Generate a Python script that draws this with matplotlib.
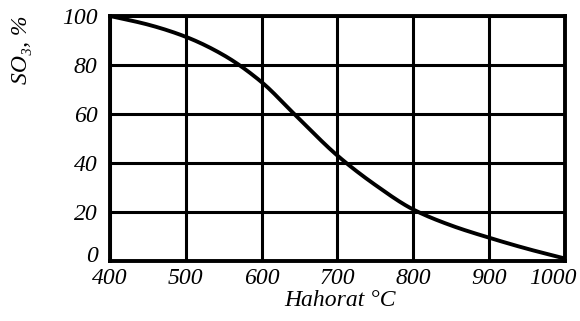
import matplotlib
matplotlib.use("Agg")
import matplotlib.pyplot as plt
import matplotlib.transforms as mtransforms
import numpy as np

# data
temperature = [400, 450, 500, 550, 600, 643, 700, 750, 800, 850, 900, 950, 1000]
so3_percent = [100, 96.5, 91.5, 84, 73, 60, 43, 31, 21, 14.5, 9.5, 5, 1]
x_ticks = [400, 500, 600, 700, 800, 900, 1000]
y_ticks = [0, 20, 40, 60, 80, 100]

plt.rcParams.update({
    "font.family": "serif",
    "font.serif": ["Liberation Serif", "DejaVu Serif"],
    "font.style": "italic",
    "font.size": 17,
})

fig = plt.figure(figsize=(5.8, 3.21), dpi=100)
ax = fig.add_axes([110 / 580, 1 - 261 / 321, 455 / 580, 245 / 321])

# monotone cubic through the read points (smooth, no overshoot)
t = np.array(temperature, float)
v = np.array(so3_percent, float)
h = np.diff(t)
d = np.diff(v) / h
m = np.zeros_like(v)
m[0], m[-1] = d[0], d[-1]
for i in range(1, len(v) - 1):
    if d[i - 1] * d[i] > 0:
        w1 = 2 * h[i] + h[i - 1]
        w2 = h[i] + 2 * h[i - 1]
        m[i] = (w1 + w2) / (w1 / d[i - 1] + w2 / d[i])
xs = np.linspace(t[0], t[-1], 300)
idx = np.clip(np.searchsorted(t, xs) - 1, 0, len(t) - 2)
s = (xs - t[idx]) / h[idx]
ys = (v[idx] * (2 * s**3 - 3 * s**2 + 1) + h[idx] * m[idx] * (s**3 - 2 * s**2 + s)
      + v[idx + 1] * (-2 * s**3 + 3 * s**2) + h[idx] * m[idx + 1] * (s**3 - s**2))

ax.plot(xs, ys, color="black", linewidth=2.8, solid_capstyle="round")

ax.set_xlim(400, 1000)
ax.set_ylim(0, 100)
ax.set_xticks(x_ticks)
ax.set_yticks(y_ticks)
ax.grid(True, color="black", linewidth=2.2)
ax.set_axisbelow(True)
ax.tick_params(axis="y", length=0, pad=9)
ax.tick_params(axis="x", length=0, pad=5)
for sp in ax.spines.values():
    sp.set_linewidth(2.8)

# small label nudges, as in the original
def nudge(label, dx, dy):
    label.set_transform(label.get_transform()
                        + mtransforms.ScaledTranslation(dx / 100, dy / 100, fig.dpi_scale_trans))

nudge(ax.get_xticklabels()[-1], -12, 0)
nudge(ax.get_yticklabels()[0], 0, 7)

fig.text(340 / 580, 1 - 301 / 321, "Hahorat °C", ha="center", va="center", fontsize=17)
fig.text(22 / 580, 1 - 50 / 321, "SO₃, %", ha="center", va="center",
         rotation=90, fontsize=17)

fig.savefig("out.png", dpi=100, facecolor="white")
